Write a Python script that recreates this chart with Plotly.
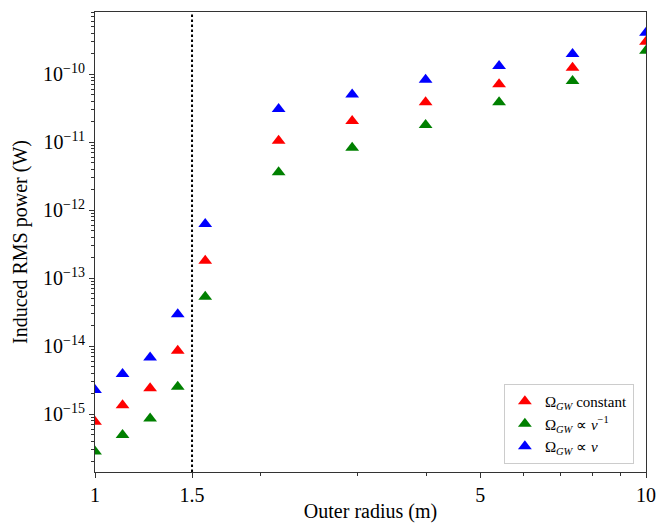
import plotly.graph_objects as go

# Data
outer_radius = [1.0, 1.122, 1.259, 1.413, 1.585, 2.154, 2.929, 3.981, 5.412, 7.356, 10.0]
power_constant = [7.7e-16, 1.35e-15, 2.4e-15, 8.5e-15, 1.8e-13, 1.04e-11, 2.04e-11, 3.84e-11, 7.1e-11, 1.24e-10, 2.98e-10]
power_inverse = [2.8e-16, 4.9e-16, 8.6e-16, 2.52e-15, 5.3e-14, 3.6e-12, 8.2e-12, 1.78e-11, 3.84e-11, 7.9e-11, 2.2e-10]
power_linear = [2.25e-15, 3.87e-15, 6.8e-15, 2.92e-14, 6.2e-13, 3.05e-11, 5.0e-11, 8.2e-11, 1.31e-10, 1.97e-10, 4.05e-10]

series_names = ["Ω<sub><i>GW</i></sub> constant",
                "Ω<sub><i>GW</i></sub> ∝ <i>ν</i><sup>−1</sup>",
                "Ω<sub><i>GW</i></sub> ∝ <i>ν</i>"]
series_colors = ["#ff0000", "#008000", "#0000ff"]

x_tickvals = [1, 1.5, 5, 10]
x_ticktext = ["1", "1.5", "5", "10"]
x_minor = [2, 3, 4, 6, 7, 8, 9]
y_major = [1e-15, 1e-14, 1e-13, 1e-12, 1e-11, 1e-10]
y_ticktext = ["10<sup>−15</sup>", "10<sup>−14</sup>", "10<sup>−13</sup>",
              "10<sup>−12</sup>", "10<sup>−11</sup>", "10<sup>−10</sup>"]
cutoff_radius = 1.5

y_minor = []
for dec in [1e-16, 1e-15, 1e-14, 1e-13, 1e-12, 1e-11, 1e-10]:
    for m in range(2, 10):
        y_minor.append(m * dec)

FONT = "Liberation Serif, Times New Roman, serif"

fig = go.Figure()
for name, vals, col in zip(series_names, [power_constant, power_inverse, power_linear], series_colors):
    fig.add_trace(go.Scatter(
        x=outer_radius, y=vals, mode="markers", name=name,
        marker=dict(symbol="triangle-up", size=12, color=col, line=dict(width=0)),
    ))

fig.add_shape(type="line", xref="x", yref="paper", x0=cutoff_radius, x1=cutoff_radius,
              y0=0, y1=1, line=dict(color="black", width=2, dash="2.5px,2.5px"))

axis_common = dict(
    showline=True, linecolor="#333333", linewidth=1, mirror=True,
    ticks="outside", ticklen=5, tickwidth=1, tickcolor="#333333",
    showgrid=False, zeroline=False, automargin=False,
    tickfont=dict(family=FONT, size=20, color="black"),
)

fig.update_xaxes(
    type="log", range=[0, 1],
    tickmode="array", tickvals=x_tickvals, ticktext=x_ticktext,
    minor=dict(tickvals=x_minor, ticks="outside", ticklen=3, tickcolor="#333333", showgrid=False),
    title=dict(text="Outer radius (m)", font=dict(family=FONT, size=20, color="black"), standoff=7),
    **axis_common,
)
fig.update_yaxes(
    type="log", range=[-15.853, -9.088],
    tickmode="array", tickvals=y_major, ticktext=y_ticktext,
    minor=dict(tickvals=y_minor, ticks="outside", ticklen=3, tickcolor="#333333", showgrid=False),
    title=dict(text="Induced RMS power (W)", font=dict(family=FONT, size=20, color="black"), standoff=10),
    **axis_common,
)

fig.update_layout(
    width=659, height=523,
    margin=dict(l=95, r=13, t=12, b=51),
    paper_bgcolor="white", plot_bgcolor="white",
    font=dict(family=FONT, color="black"),
    legend=dict(
        x=0.978, y=0.0174, xanchor="right", yanchor="bottom",
        bgcolor="white", bordercolor="#cccccc", borderwidth=1,
        font=dict(family=FONT, size=15, color="black"),
        itemsizing="constant", tracegroupgap=0,
    ),
    showlegend=True,
)

fig.write_html("out.html", config={"displayModeBar": False},
               post_script="document.body.style.margin='0';document.body.style.overflow='hidden';")
